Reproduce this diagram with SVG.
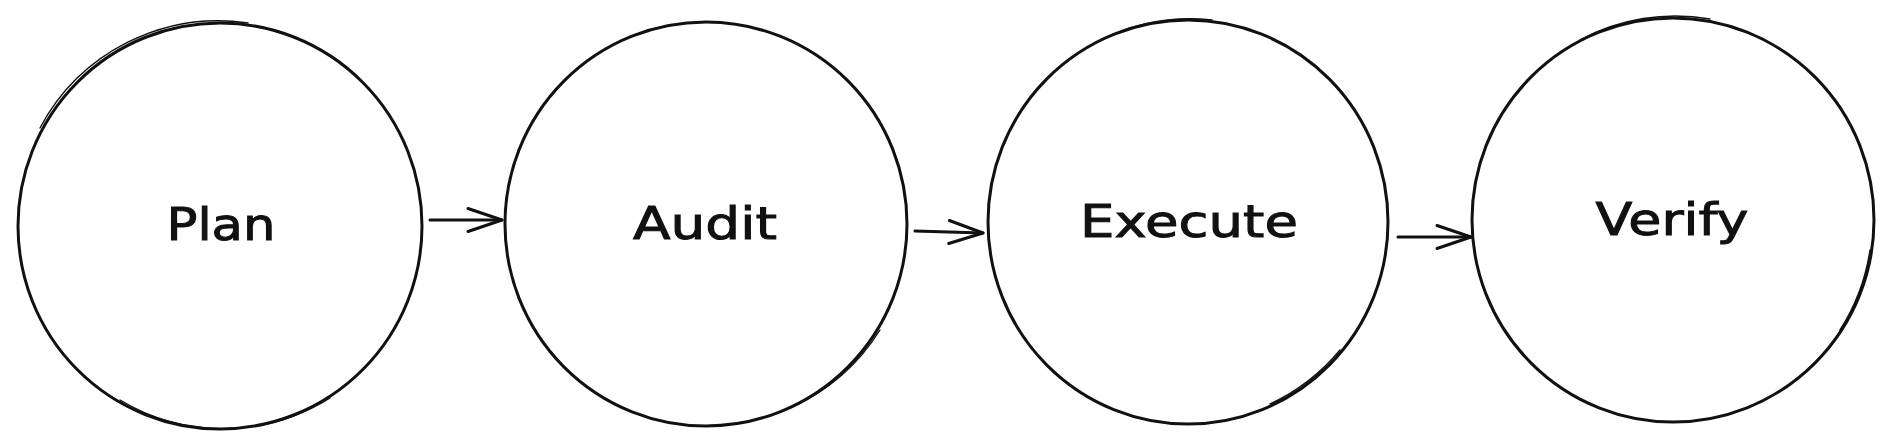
<svg xmlns="http://www.w3.org/2000/svg" width="1894" height="448" viewBox="0 0 1894 448">
  <defs>
    <style>
      .ring { fill: none; stroke: #111111; stroke-width: 3; stroke-linecap: round; }
      .ring2 { fill: none; stroke: #111111; stroke-width: 1.4; stroke-linecap: round; }
      .label { font-family: "DejaVu Sans", "Liberation Sans", sans-serif; font-size: 45px; fill: #111111; stroke: #111111; stroke-width: 1; text-anchor: middle; }
      .edge { fill: none; stroke: #111111; stroke-width: 3; stroke-linecap: round; }
    </style>
    <marker id="chev" markerUnits="userSpaceOnUse" viewBox="-40 -16 44 32" markerWidth="44" markerHeight="32" refX="0" refY="0" orient="auto">
      <path d="M-34,-11.5 L0,0 L-34,11.5" fill="none" stroke="#111111" stroke-width="3" stroke-linecap="round" stroke-linejoin="round"/>
    </marker>
  </defs>
  <rect width="1894" height="448" fill="#ffffff"/>

  <g id="node-plan">
    <ellipse class="ring" cx="220" cy="226" rx="202" ry="203"/>
    <path class="ring2" d="M40,128 A202 202 0 0 1 248,23"/>
    <path class="ring2" d="M120,400 A202 204 0 0 0 330,398"/>
    <text class="label" x="221" y="240" textLength="109" lengthAdjust="spacingAndGlyphs">Plan</text>
  </g>

  <g id="node-audit">
    <ellipse class="ring" cx="706" cy="224" rx="201" ry="202"/>
    <path class="ring2" d="M805,48 A203 203 0 0 1 906,205"/>
    <path class="ring2" d="M790,408 A202 202 0 0 0 880,330"/>
    <text class="label" x="705" y="239" textLength="144" lengthAdjust="spacingAndGlyphs">Audit</text>
  </g>

  <g id="node-execute">
    <ellipse class="ring" cx="1188" cy="222" rx="200" ry="202"/>
    <path class="ring2" d="M1105,38 A201 203 0 0 1 1212,20"/>
    <path class="ring2" d="M1270,404 A200 201 0 0 0 1340,350"/>
    <text class="label" x="1189" y="237" textLength="218" lengthAdjust="spacingAndGlyphs">Execute</text>
  </g>

  <g id="node-verify">
    <ellipse class="ring" cx="1673" cy="220" rx="201" ry="202"/>
    <path class="ring2" d="M1580,40 A202 203 0 0 1 1710,19"/>
    <path class="ring2" d="M1870,250 A200 203 0 0 1 1840,330"/>
    <text class="label" x="1672" y="235" textLength="153" lengthAdjust="spacingAndGlyphs">Verify</text>
  </g>

  <g id="connectors">
    <path class="edge" d="M430,220 L502,220" marker-end="url(#chev)"/>
    <path class="edge" d="M915,231 L983,233" marker-end="url(#chev)"/>
    <path class="edge" d="M1398,237 L1471,237" marker-end="url(#chev)"/>
  </g>
</svg>
